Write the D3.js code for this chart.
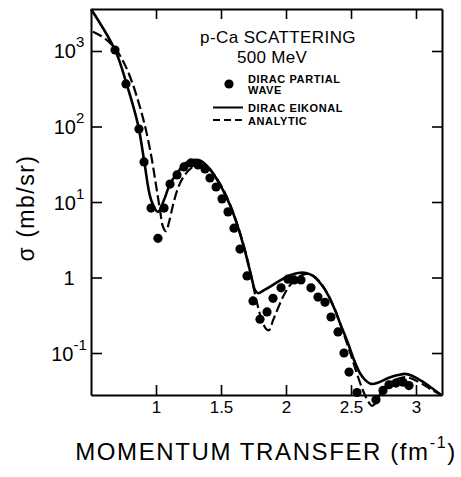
<!DOCTYPE html>
<html>
<head>
<meta charset="utf-8">
<script src="https://cdn.jsdelivr.net/npm/d3@7"></script>
<style>
  html, body { margin: 0; padding: 0; background: #fff; }
  svg { display: block; font-family: "Liberation Sans", Arial, sans-serif; }
</style>
</head>
<body>
<div id="chart"></div>
<script>
// p-Ca scattering at 500 MeV: cross section vs momentum transfer

// Dirac partial wave (dots)
const partialQ = [0.685, 0.769, 0.869, 0.908, 0.962, 1.015, 1.062, 1.108, 1.162, 1.215,
    1.269, 1.323, 1.377, 1.415, 1.462, 1.508, 1.554, 1.600, 1.646, 1.700,
    1.746, 1.800, 1.854, 1.900, 1.962, 2.015, 2.062, 2.115, 2.192, 2.246,
    2.300, 2.346, 2.400, 2.446, 2.485, 2.546, 2.692, 2.746, 2.792, 2.846,
    2.900, 2.946];
const partialSigma = [1030, 366, 92.7, 33.9, 8.3, 3.3, 8.3, 17.3, 22.8, 29.1,
    32.9, 30.9, 27.4, 20.8, 15.8, 11.0, 7.4, 4.5, 2.38, 1.05,
    0.49, 0.28, 0.35, 0.53, 0.73, 0.95, 0.93, 0.93, 0.73, 0.55,
    0.47, 0.30, 0.19, 0.100, 0.056, 0.030, 0.024, 0.032, 0.038, 0.040,
    0.041, 0.037];

// Dirac eikonal (solid)
const eikonalQ = [0.5, 0.685, 0.769, 0.862, 0.908, 0.962, 1.015, 1.062, 1.108, 1.169,
    1.231, 1.292, 1.346, 1.408, 1.462, 1.515, 1.569, 1.623, 1.677, 1.731,
    1.762, 1.785, 1.831, 1.885, 1.962, 2.038, 2.092, 2.154, 2.208, 2.269,
    2.323, 2.377, 2.423, 2.477, 2.523, 2.569, 2.615, 2.654, 2.715, 2.792,
    2.862, 2.915, 2.969, 3.038, 3.115, 3.192];
const eikonalSigma = [3600, 1030, 390, 105, 36, 10.7, 7.4, 10.7, 17.3, 25,
    33, 36, 35, 28, 20.8, 14.4, 9.1, 5.1, 2.5, 1.08,
    0.68, 0.62, 0.68, 0.77, 0.93, 1.08, 1.15, 1.15, 1.05, 0.82,
    0.59, 0.37, 0.23, 0.135, 0.081, 0.054, 0.043, 0.039, 0.041, 0.047,
    0.051, 0.053, 0.050, 0.043, 0.035, 0.028];

// Analytic (dashed)
const analyticQ = [0.515, 0.577, 0.638, 0.700, 0.762, 0.815, 0.869, 0.915, 0.962, 1.000,
    1.031, 1.054, 1.077, 1.100, 1.131, 1.169, 1.215, 1.269, 1.323, 1.377,
    1.431, 1.485, 1.538, 1.592, 1.646, 1.692, 1.738, 1.777, 1.815, 1.846,
    1.869, 1.900, 1.938, 1.985, 2.038, 2.092, 2.146, 2.200, 2.254, 2.308,
    2.362, 2.408, 2.454, 2.500, 2.546, 2.592, 2.631, 2.662, 2.692, 2.731,
    2.792, 2.854, 2.915, 2.977, 3.046, 3.115, 3.192];
const analyticSigma = [1800, 1580, 1320, 1000, 650, 390, 200, 102, 42, 16.8,
    7.8, 4.7, 4.1, 5.4, 9.1, 15.3, 22, 28, 32, 30,
    25, 18.4, 12.4, 7.4, 3.9, 2.05, 0.93, 0.46, 0.27, 0.21,
    0.20, 0.27, 0.39, 0.59, 0.82, 1.0, 1.11, 1.08, 0.90, 0.66,
    0.43, 0.27, 0.16, 0.094, 0.053, 0.032, 0.023, 0.020, 0.022, 0.030,
    0.040, 0.045, 0.048, 0.045, 0.039, 0.033, 0.028];

const xTicks = [1, 1.5, 2, 2.5, 3];
const xTickLabels = ['1', '1.5', '2', '2.5', '3'];
const yTicks = [0.1, 1, 10, 100, 1000];
const yTickBase = ['10', '1', '10', '10', '10'];
const yTickExp = ['-1', '', '1', '2', '3'];

const titleLines = ['p-Ca SCATTERING', '500 MeV'];
const seriesNames = [['DIRAC PARTIAL', 'WAVE'], ['DIRAC EIKONAL'], ['ANALYTIC']];

const W = 461, H = 477;
const margin = { top: 9, right: 19, bottom: 82, left: 91 };

const svg = d3.select('#chart')
    .append('svg')
    .attr('width', W)
    .attr('height', H);

const x = d3.scaleLinear()
    .domain([0.5, 3.2])
    .range([margin.left, W - margin.right]);

const y = d3.scaleLog()
    .domain([Math.pow(10, -1.556), Math.pow(10, 3.556)])
    .range([H - margin.bottom, margin.top]);

// axes, ticks pointing inward on all four sides
const styleAxis = g => {
    g.select('.domain').attr('stroke-width', 2);
    g.selectAll('.tick line').attr('stroke-width', 1.6);
};

svg.append('g')
    .attr('transform', `translate(0,${H - margin.bottom})`)
    .call(d3.axisBottom(x).tickValues(xTicks).tickSize(-10).tickSizeOuter(0)
        .tickPadding(0).tickFormat((d, i) => xTickLabels[i]))
    .call(styleAxis)
    .call(g => g.selectAll('.tick text')
        .attr('y', 18)
        .attr('dy', 0)
        .attr('font-size', 17)
        .attr('fill', '#000'));

svg.append('g')
    .attr('transform', `translate(0,${margin.top})`)
    .call(d3.axisTop(x).tickValues(xTicks).tickSize(-10).tickSizeOuter(0).tickFormat(''))
    .call(styleAxis);

svg.append('g')
    .attr('transform', `translate(${W - margin.right},0)`)
    .call(d3.axisRight(y).tickValues(yTicks).tickSize(-10).tickSizeOuter(0).tickFormat(''))
    .call(styleAxis);

const yAxis = svg.append('g')
    .attr('transform', `translate(${margin.left},0)`)
    .call(d3.axisLeft(y).tickValues(yTicks).tickSize(-11).tickSizeOuter(0).tickFormat(''))
    .call(styleAxis);

yAxis.selectAll('.tick').each(function (d, i) {
    const t = d3.select(this).append('text')
        .attr('x', -22)
        .attr('y', 7)
        .attr('text-anchor', 'middle')
        .attr('font-size', 20)
        .attr('fill', '#000');
    t.append('tspan').text(yTickBase[i]);
    if (yTickExp[i]) {
        t.append('tspan')
            .attr('dy', -11)
            .attr('font-size', 15)
            .text(yTickExp[i]);
    }
});

// curves
const line = (qs, ss) => d3.line()
    .x(i => x(qs[i]))
    .y(i => y(ss[i]))
    .curve(d3.curveCatmullRom.alpha(0.5))(d3.range(qs.length));

svg.append('path')
    .attr('d', line(eikonalQ, eikonalSigma))
    .attr('fill', 'none')
    .attr('stroke', '#000')
    .attr('stroke-width', 2.6);

svg.append('path')
    .attr('d', line(analyticQ, analyticSigma))
    .attr('fill', 'none')
    .attr('stroke', '#000')
    .attr('stroke-width', 2.2)
    .attr('stroke-dasharray', '10,4');

svg.append('g')
    .selectAll('circle')
    .data(d3.range(partialQ.length))
    .join('circle')
    .attr('cx', i => x(partialQ[i]))
    .attr('cy', i => y(partialSigma[i]))
    .attr('r', 4.6)
    .attr('fill', '#000');

// title and legend
svg.append('text')
    .attr('x', 278).attr('y', 43)
    .attr('text-anchor', 'middle')
    .attr('font-size', 17)
    .attr('letter-spacing', 0.4)
    .text(titleLines[0]);

svg.append('text')
    .attr('x', 272).attr('y', 63)
    .attr('text-anchor', 'middle')
    .attr('font-size', 17)
    .attr('letter-spacing', 0.3)
    .text(titleLines[1]);

const legend = svg.append('g')
    .attr('font-size', 11)
    .attr('font-weight', 'bold')
    .attr('letter-spacing', 0.6);

legend.append('circle')
    .attr('cx', 229).attr('cy', 84).attr('r', 4.6);
legend.append('text').attr('x', 248).attr('y', 83).text(seriesNames[0][0]);
legend.append('text').attr('x', 248).attr('y', 94).text(seriesNames[0][1]);

legend.append('line')
    .attr('x1', 213).attr('x2', 243).attr('y1', 107.5).attr('y2', 107.5)
    .attr('stroke', '#000').attr('stroke-width', 2);
legend.append('text').attr('x', 248).attr('y', 112).text(seriesNames[1][0]);

legend.append('line')
    .attr('x1', 213).attr('x2', 243).attr('y1', 120).attr('y2', 120)
    .attr('stroke', '#000').attr('stroke-width', 2)
    .attr('stroke-dasharray', '7,4');
legend.append('text').attr('x', 248).attr('y', 124.5).text(seriesNames[2][0]);

// axis titles
svg.append('text')
    .attr('transform', 'translate(34,208) rotate(-90)')
    .attr('text-anchor', 'middle')
    .attr('font-size', 23)
    .attr('letter-spacing', 1.5)
    .text('σ  (mb/sr)');

const xTitle = svg.append('text')
    .attr('x', 266).attr('y', 460)
    .attr('text-anchor', 'middle')
    .attr('font-size', 24)
    .attr('letter-spacing', 1.6);
xTitle.append('tspan').text('MOMENTUM TRANSFER  (fm');
xTitle.append('tspan').attr('dy', -12).attr('font-size', 16).text('-1');
xTitle.append('tspan').attr('dy', 12).text(')');
</script>
</body>
</html>
